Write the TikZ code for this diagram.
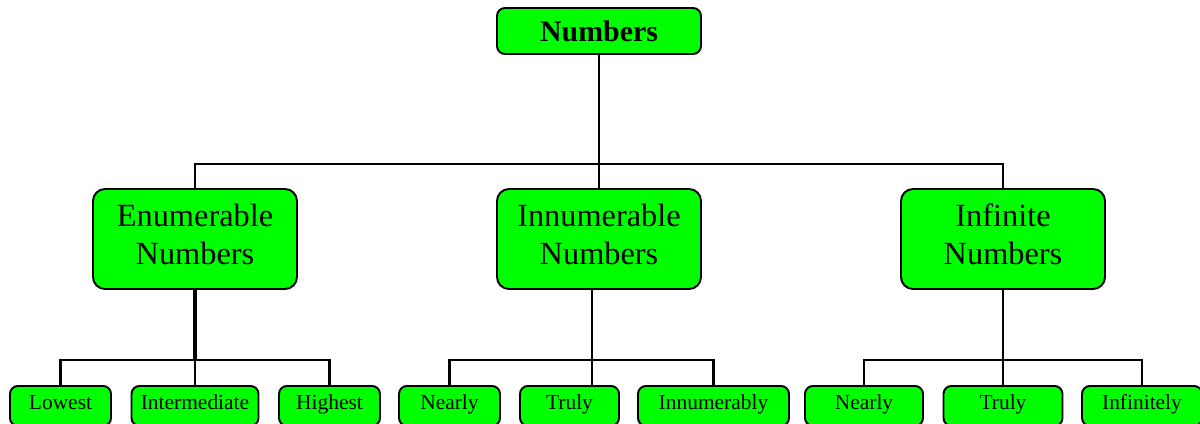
\documentclass[tikz,border=0pt]{standalone}
\usepackage{fontspec}
\setmainfont{Liberation Serif}

\begin{document}
\begin{tikzpicture}[box/.style={shape=rectangle,draw=black,fill=green,align=center,line width=1.1pt,inner sep=0pt},
topbox/.style={box,rounded corners=0.16cm,minimum width=4.08cm,minimum height=0.92cm,font=\fontsize{17}{20}\selectfont\bfseries},
midbox/.style={box,rounded corners=0.24cm,minimum width=4.08cm,minimum height=2cm,text depth=5.5pt,font=\fontsize{18.4}{21.3}\selectfont},
leafbox/.style={box,rounded corners=0.16cm,anchor=north,minimum height=0.8cm,text height=8pt,text depth=3.5pt,font=\fontsize{12.2}{14}\selectfont},
wire/.style={-,draw=black,line width=1.3pt}]
\useasboundingbox (0,0) rectangle (24,8.46);
\node[topbox] (0) at (11.98,7.84) {Numbers};
\node[midbox] (1) at (3.9,3.68) {Enumerable\\Numbers};
\node[midbox] (2) at (11.98,3.68) {Innumerable\\Numbers};
\node[midbox] (3) at (20.06,3.68) {Infinite\\Numbers};
\node[leafbox,minimum width=2.02cm] (4) at (1.21,0.76) {Lowest};
\node[leafbox,minimum width=2.54cm] (5) at (3.9,0.76) {Intermediate};
\node[leafbox,minimum width=2.02cm] (6) at (6.59,0.76) {Highest};
\node[leafbox,minimum width=2.02cm] (7) at (8.99,0.76) {Nearly};
\node[leafbox,minimum width=1.98cm] (8) at (11.39,0.76) {Truly};
\node[leafbox,minimum width=3.02cm] (9) at (14.27,0.76) {Innumerably};
\node[leafbox,minimum width=2.36cm] (10) at (17.28,0.76) {Nearly};
\node[leafbox,minimum width=2.38cm] (11) at (20.06,0.76) {Truly};
\node[leafbox,minimum width=2.4cm] (12) at (22.84,0.76) {Infinitely};

\coordinate (t) at (11.98,5.18);
\coordinate (l) at (3.9,1.26);
\coordinate (m) at (11.84,1.26);
\coordinate (r) at (20.06,1.26);

\path [wire] (0) -- (2);
\path [wire] (1.north) |- (t) -| (3.north);
\path [wire,line width=1.8pt] (1) -- (l);
\path [wire] (l) -- (5);
\path [wire] (4.north) |- (l) -| (6.north);
\path [wire] (2.south -| m) -- (m |- 8.north);
\path [wire] (7.north) |- (m) -| (9.north);
\path [wire] (3) -- (11);
\path [wire] (10.north) |- (r) -| (12.north);
\end{tikzpicture}
\end{document}
